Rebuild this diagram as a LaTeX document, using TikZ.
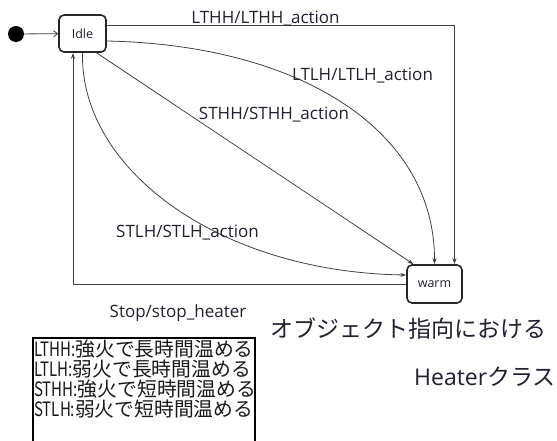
\documentclass[tikz,border=0pt]{standalone}
\usepackage{fontspec}
\setmainfont{Open Sans}
\newfontfamily\jp{Noto Sans CJK JP}
\usetikzlibrary{arrows.meta}
\definecolor{ink}{HTML}{202030}
\definecolor{wire}{HTML}{404040}
\newcommand{\lat}[1]{\scalebox{0.76}[1]{\jp #1}}
\tikzset{
  statebox/.style={draw=black!85, line width=1.6pt, rounded corners=5pt, fill=white,
    font=\fontsize{12.5}{14}\selectfont, text=ink, inner sep=0pt},
  edge/.style={draw=wire, line width=0.8pt, -{Stealth[length=6pt,width=4pt]}},
  lbl/.style={font=\fontsize{17}{20}\selectfont, text=ink, inner sep=0pt},
  legline/.style={font=\jp\fontsize{19.8}{20}\selectfont, text=black!90, inner sep=0pt, anchor=west},
  title/.style={font=\fontsize{23}{26}\selectfont, text=ink, inner sep=0pt}
}
\begin{document}
\begin{tikzpicture}[x=1pt,y=-1pt]
\useasboundingbox (0,0) rectangle (557,441);
% states
\node[statebox, minimum width=47pt, minimum height=37pt] (idle) at (82.5,33.5) {Idle};
\node[statebox, minimum width=55pt, minimum height=38pt] (warm) at (434.5,284) {warm};
\node[circle, fill=black, minimum size=16pt, inner sep=0pt] (init) at (16,34) {};
% transitions
\draw[draw=wire, line width=0.8pt, -{Straight Barb[length=4pt,width=6pt]}] (init) -- (idle);
\draw[edge, line width=1pt] ([yshift=7.5pt]idle.east) -| ([xshift=20pt]warm.north);
\draw[edge] ([yshift=-7.5pt]idle.east) .. controls (300,45) and (435,130) .. (warm.north);
\draw[edge] ([xshift=14pt]idle.south) -- ([xshift=-21pt]warm.north);
\draw[edge] (idle.south) .. controls (80,170) and (220,272) .. ([yshift=9pt]warm.west);
\draw[edge, line width=1pt] (warm.west) -| ([xshift=-9.5pt]idle.south);
% labels
\node[lbl] (l1) at (265.5,18.5) {LTHH/LTHH\_action};
\node[lbl] (l2) at (362.5,76) {LTLH/LTLH\_action};
\node[lbl] (l3) at (274,115) {STHH/STHH\_action};
\node[lbl] (l4) at (187.5,233) {STLH/STLH\_action};
\node[lbl] (l5) at (178,313) {Stop/stop\_heater};
% titles
\node[title] (t1) at (408,329) {\jp オブジェクト指向における};
\node[title, anchor=east] (t2) at (556,377) {Heater\jp クラス};
% legend
\draw[black, line width=1.2pt] (33,442) -- (33,338) -- (255,338) -- (255,442);
\node[legline] (g1) at (34,349) {\lat{LTHH:}強火で長時間温める};
\node[legline] (g2) at (34,369) {\lat{LTLH:}弱火で長時間温める};
\node[legline] (g3) at (34,389) {\lat{STHH:}強火で短時間温める};
\node[legline] (g4) at (34,409) {\lat{STLH:}弱火で短時間温める};
\end{tikzpicture}
\end{document}
